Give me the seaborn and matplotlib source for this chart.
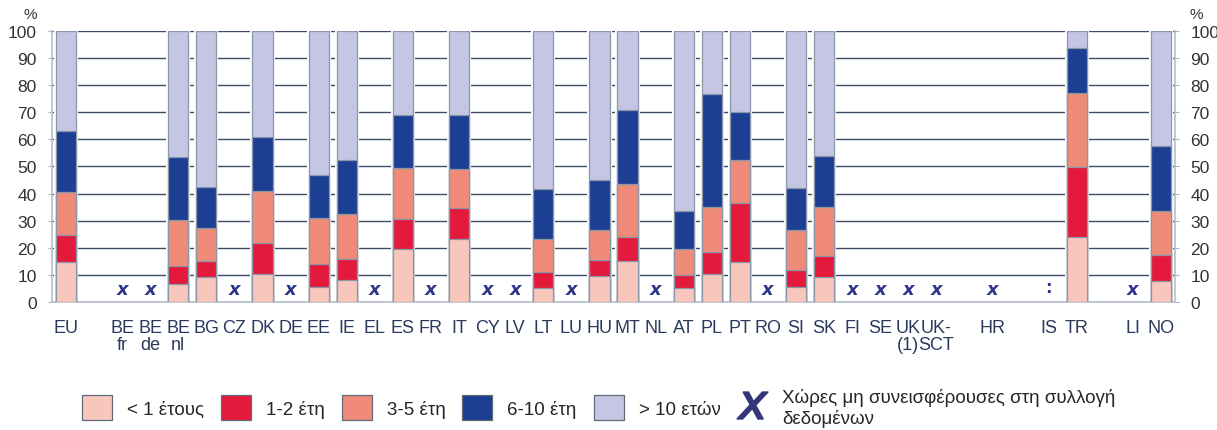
import numpy as np
import pandas as pd
import matplotlib.pyplot as plt
from matplotlib.patches import Patch
from matplotlib.lines import Line2D
import seaborn as sns

# slots on the x axis ("" = empty slot)
countries = ["EU", "", "BE\nfr", "BE\nde", "BE\nnl", "BG", "CZ", "DK", "DE", "EE",
             "IE", "EL", "ES", "FR", "IT", "CY", "LV", "LT", "LU", "HU",
             "MT", "NL", "AT", "PL", "PT", "RO", "SI", "SK", "FI", "SE",
             "UK\n(1)", "UK-\nSCT", "", "HR", "", "IS", "TR", "", "LI", "NO"]
missing = ["BE\nfr", "BE\nde", "CZ", "DE", "EL", "FR", "CY", "LV", "LU", "NL", "RO",
           "FI", "SE", "UK\n(1)", "UK-\nSCT", "HR", "LI"]
not_available = ["IS"]

# shares (%) for the countries with data
bar_countries = ["EU", "BE\nnl", "BG", "DK", "EE", "IE", "ES", "IT", "LT", "HU",
                 "MT", "AT", "PL", "PT", "SI", "SK", "TR", "NO"]
lt1 = [14.8, 6.8, 9.2, 10.3, 5.4, 8.0, 19.6, 23.1, 5.0, 9.6, 15.3, 5.0, 10.3, 14.9, 5.4, 9.2, 24.1, 7.9]
y1_2 = [10.0, 6.6, 6.1, 11.5, 8.7, 8.0, 10.9, 11.6, 6.2, 6.0, 8.8, 4.8, 8.3, 21.6, 6.3, 7.9, 25.7, 9.3]
y3_5 = [15.8, 17.0, 12.0, 19.2, 16.7, 16.5, 18.9, 14.3, 11.9, 11.1, 19.3, 9.8, 16.3, 15.9, 14.7, 17.8, 27.4, 16.5]
y6_10 = [22.5, 23.2, 15.3, 19.8, 15.9, 19.7, 19.7, 20.1, 18.7, 18.2, 27.4, 14.0, 41.9, 17.8, 15.8, 19.1, 16.6, 23.9]
gt10 = [36.9, 46.4, 57.4, 39.2, 53.3, 47.8, 30.9, 30.9, 58.2, 55.1, 29.2, 66.4, 23.2, 29.8, 57.8, 46.0, 6.2, 42.4]

series_names = ["< 1 έτους", "1-2 έτη", "3-5 έτη", "6-10 έτη", "> 10 ετών"]
colors = ["#f8c6bb", "#e31a3c", "#ef8b78", "#1c3f94", "#c5c6e4"]
missing_label = "Χώρες μη συνεισφέρουσες στη συλλογή\nδεδομένων"

sns.set_style("white")
plt.rcParams['font.family'] = ['Liberation Sans', 'DejaVu Sans']

keys = [c if c else "_gap%d" % i for i, c in enumerate(countries)]
key_of = dict(zip(countries, keys))
df = pd.DataFrame({"key": [key_of[c] for c in bar_countries]})
layers = [lt1, y1_2, y3_5, y6_10, gt10]
cum = np.cumsum(np.array(layers), axis=0)

fig = plt.figure(figsize=(12.17, 4.31), dpi=100)
ax = fig.add_axes([0.0427, 0.297, 0.9228, 0.629])

edge = "#8a97a8"
# white halo under the bars so the grid stops short of them
df["top"] = cum[-1]
sns.barplot(data=df, x="key", y="top", order=keys, color="white", saturation=1,
            width=0.86, errorbar=None, linewidth=0, ax=ax, zorder=2)
for i in range(4, -1, -1):
    df["v"] = cum[i]
    sns.barplot(data=df, x="key", y="v", order=keys, color=colors[i], saturation=1,
                width=0.72, errorbar=None, edgecolor=edge, linewidth=0.9, ax=ax, zorder=3)

pos = {c: i for i, c in enumerate(countries) if c}
for c in missing:
    ax.text(pos[c], 4.8, "x", ha="center", va="center", fontsize=13, fontweight="bold",
            style="italic", color="#2c3688", family="DejaVu Sans", zorder=4)
for c in not_available:
    ax.text(pos[c], 5.5, ":", ha="center", va="center", fontsize=12, fontweight="bold",
            color="#2c3688", family="DejaVu Sans", zorder=4)

ax.set_xlim(-0.5, len(countries) - 0.5)
ax.set_ylim(0, 100)
ax.set_yticks(range(0, 101, 10))
ax.yaxis.grid(True, color="#3d4b66", linewidth=1.0)
ax.set_axisbelow(True)
ax.set_xlabel("")
ax.set_ylabel("")

ax.set_xticks(range(len(countries)))
ax.set_xticklabels(countries, fontsize=13, color="#2a3a5c", linespacing=1.05)
ax.set_xticks(np.arange(0.5, len(countries) - 1, 1), minor=True)
ax.tick_params(axis="x", which="major", length=0, pad=12)
ax.tick_params(axis="x", which="minor", direction="in", length=4, color="#a9b2bf", width=0.8)
ax.tick_params(axis="y", which="major", labelsize=12.5, labelcolor="#333333", left=True, right=True,
               labelleft=True, labelright=True, length=3, width=0.8, color="#a9b2bf", pad=8)

ax.spines["top"].set_visible(False)
for s in ["left", "right", "bottom"]:
    ax.spines[s].set_visible(True)
    ax.spines[s].set_color("#b7bfca")
    ax.spines[s].set_linewidth(1.2)

ax.text(-0.013, 1.035, "%", transform=ax.transAxes, ha="right", va="bottom", fontsize=11, color="#333333")
ax.text(1.013, 1.035, "%", transform=ax.transAxes, ha="left", va="bottom", fontsize=11, color="#333333")

handles = [Patch(facecolor=col, edgecolor="#5f6a7a", linewidth=0.9) for col in colors]
handles.append(Line2D([], [], linestyle="none", marker="$x$", markersize=22,
                      color="#34367a", markeredgewidth=1.2))
fig.legend(handles, series_names + [missing_label], loc="center", ncol=6,
           bbox_to_anchor=(0.492, 0.053), frameon=False, fontsize=13.5,
           handlelength=1.6, handleheight=1.6, handletextpad=0.8, columnspacing=0.9,
           labelspacing=0.2)

fig.savefig("out.png", dpi=100)
